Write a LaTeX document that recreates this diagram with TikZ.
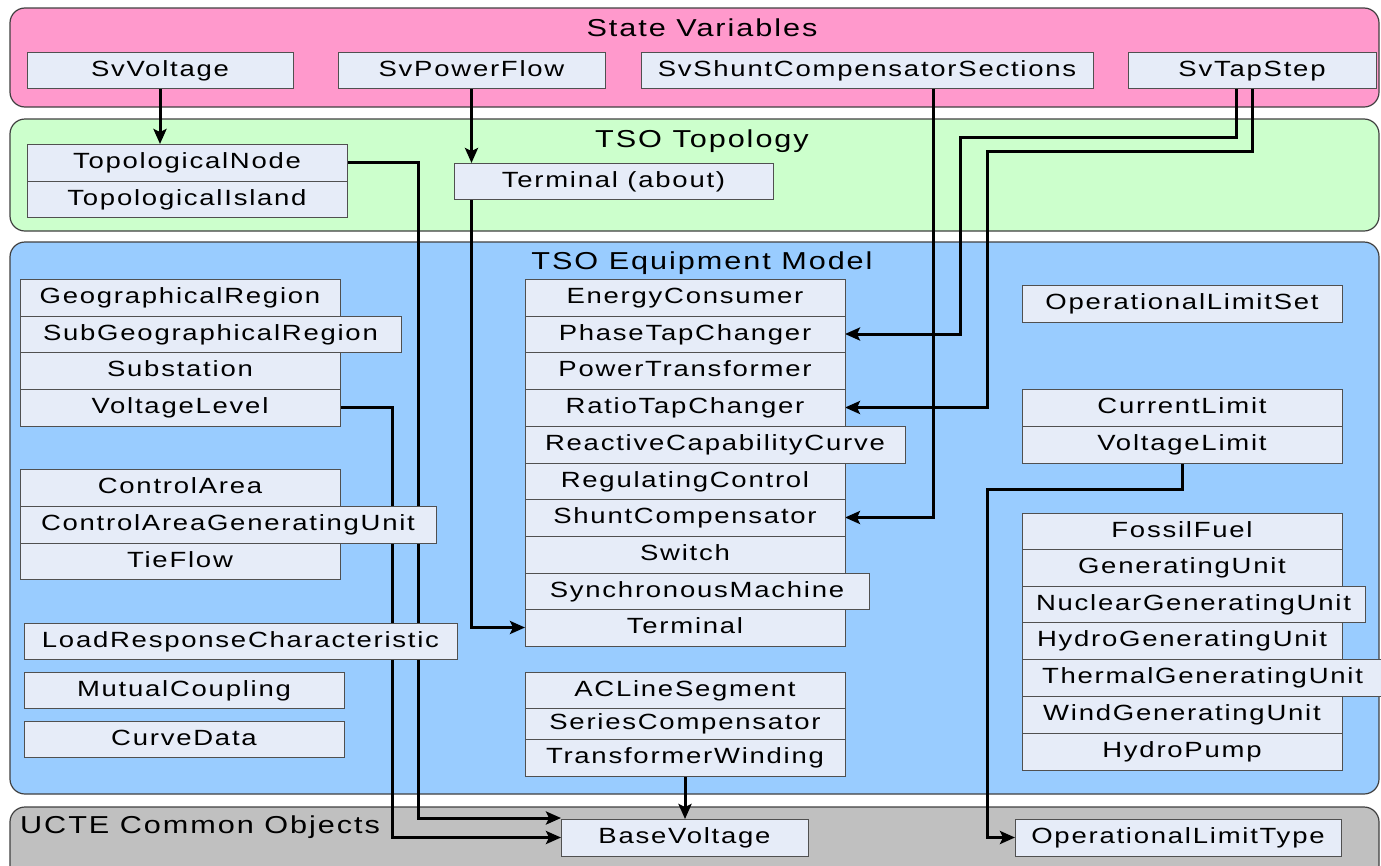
\documentclass[tikz,border=0pt]{standalone}
\usepackage{fontspec}
\setmainfont{Liberation Sans}[FakeStretch=1.25,LetterSpace=8]
\usetikzlibrary{arrows.meta}
\definecolor{svpink}{HTML}{FF99CC}
\definecolor{topgreen}{HTML}{CCFFCC}
\definecolor{eqblue}{HTML}{99CCFF}
\definecolor{ucgray}{HTML}{C0C0C0}
\definecolor{boxfill}{HTML}{E6ECF8}
\definecolor{boxline}{HTML}{505050}
\pgfdeclarelayer{bglayer}
\pgfdeclarelayer{connlayer}
\pgfsetlayers{bglayer,connlayer,main}
\newcommand\clsbox[6]{\node[cbox, minimum width={(#4)-(#2)}, minimum height={(#5)-(#3)}] (#1) at ({((#2)+(#4))/2},{((#3)+(#5))/2}) {#6};}
\begin{document}
\begin{tikzpicture}[x=1pt,y=-1pt,
  cbox/.style={draw=boxline, fill=boxfill, line width=1pt, inner sep=0pt, outer sep=0pt,
    font=\fontsize{22}{26}\selectfont, text height=15.8pt, text depth=3pt},
  container/.style={draw=black!75, line width=1.2pt, rounded corners=15pt},
  ctitle/.style={font=\fontsize{24.5}{28}\selectfont, inner sep=0pt},
  conn/.style={draw=black, line width=3pt, -{Stealth[length=15pt,width=13pt,inset=3pt]}}]
\useasboundingbox (0,0) rectangle (1381,865);
\begin{pgfonlayer}{bglayer}
  \draw[container, fill=svpink] (10,8) rectangle (1379,107);
  \draw[container, fill=topgreen] (10,119) rectangle (1379,231);
  \draw[container, fill=eqblue] (10,242) rectangle (1379,794);
  \draw[container, fill=ucgray] (10,807) rectangle (1379,880);
\end{pgfonlayer}
\node[ctitle, anchor=base] (tsv) at (702,36.7) {State Variables};
\node[ctitle, anchor=base] (ttop) at (702,147) {TSO Topology};
\node[ctitle, anchor=base] (teq) at (702,269.5) {TSO Equipment Model};
\node[ctitle, anchor=base west] (tuc) at (20,833.5) {UCTE Common Objects};
% State variables
\clsbox{svv}{27}{52}{293}{88}{SvVoltage}
\clsbox{svp}{338}{52}{605}{88}{SvPowerFlow}
\clsbox{svs}{641}{52}{1093}{88}{SvShuntCompensatorSections}
\clsbox{svt}{1128}{52}{1376}{88}{SvTapStep}
% Topology
\clsbox{topo}{27}{144}{347}{181}{TopologicalNode}
\clsbox{tisl}{27}{181}{347}{217}{TopologicalIsland}
\clsbox{tabout}{454}{163}{773}{199}{Terminal (about)}
% Equipment left
\clsbox{geo}{20}{279}{340}{316}{GeographicalRegion}
\clsbox{subgeo}{20}{316}{401}{352}{SubGeographicalRegion}
\clsbox{subst}{20}{352}{340}{389}{Substation}
\clsbox{vlev}{20}{389}{340}{426}{VoltageLevel}
\clsbox{carea}{20}{469}{340}{506}{ControlArea}
\clsbox{cagu}{20}{506}{436}{543}{ControlAreaGeneratingUnit}
\clsbox{tief}{20}{543}{340}{579}{TieFlow}
\clsbox{lrc}{24}{623}{457}{659}{LoadResponseCharacteristic}
\clsbox{mutc}{24}{672}{344}{708}{MutualCoupling}
\clsbox{curve}{24}{721}{344}{757}{CurveData}
% Equipment middle
\clsbox{econ}{525}{279}{845}{316}{EnergyConsumer}
\clsbox{ptc}{525}{316}{845}{352}{PhaseTapChanger}
\clsbox{ptr}{525}{352}{845}{389}{PowerTransformer}
\clsbox{rtc}{525}{389}{845}{426}{RatioTapChanger}
\clsbox{rcc}{525}{426}{905}{463}{ReactiveCapabilityCurve}
\clsbox{regc}{525}{463}{845}{499}{RegulatingControl}
\clsbox{shunt}{525}{499}{845}{536}{ShuntCompensator}
\clsbox{sw}{525}{536}{845}{573}{Switch}
\clsbox{sync}{525}{573}{869}{609}{SynchronousMachine}
\clsbox{term}{525}{609}{845}{646}{Terminal}
\clsbox{acl}{525}{672}{845}{708}{ACLineSegment}
\clsbox{serc}{525}{708}{845}{739}{SeriesCompensator}
\clsbox{tw}{525}{739}{845}{776}{TransformerWinding}
% Equipment right
\clsbox{ols}{1022}{285}{1342}{322}{OperationalLimitSet}
\clsbox{clim}{1022}{389}{1342}{426}{CurrentLimit}
\clsbox{vlim}{1022}{426}{1342}{463}{VoltageLimit}
\clsbox{ff}{1022}{513}{1342}{549}{FossilFuel}
\clsbox{gu}{1022}{549}{1342}{586}{GeneratingUnit}
\clsbox{ngu}{1022}{586}{1365}{622}{NuclearGeneratingUnit}
\clsbox{hgu}{1022}{622}{1342}{659}{HydroGeneratingUnit}
\clsbox{tgu}{1022}{659}{1383}{696}{ThermalGeneratingUnit}
\clsbox{wgu}{1022}{696}{1342}{733}{WindGeneratingUnit}
\clsbox{hp}{1022}{733}{1342}{770}{HydroPump}
% UCTE
\clsbox{bv}{561}{819}{808}{856}{BaseVoltage}
\clsbox{olt}{1015}{819}{1341}{856}{OperationalLimitType}
% routing coordinates
\coordinate (xshunt) at (933,0);
\coordinate (xph) at (960,0);
\coordinate (xrt) at (987,0);
\coordinate (xt1) at (1236,0);
\coordinate (yt1) at (0,137);
\coordinate (yt2) at (0,151);
\coordinate (xtn) at (418,0);
\coordinate (xvl) at (392,0);
\coordinate (ycl) at (0,489);
\coordinate (bvtop) at ([yshift=1pt]bv.north west);
\begin{pgfonlayer}{connlayer}
  \draw[conn] (svv.south) -- (svv.south |- topo.north);
  \draw[conn] (svp.south) -- (svp.south |- tabout.north);
  \draw[conn] (xshunt |- svs.south) -- (xshunt |- shunt.east) -- (shunt.east);
  \draw[conn] (xt1 |- svt.south) -- (xt1 |- yt1) -- (xph |- yt1) -- (xph |- ptc.east) -- (ptc.east);
  \draw[conn] (svt.south) -- (svt.south |- yt2) -- (xrt |- yt2) -- (xrt |- rtc.east) -- (rtc.east);
  \draw[conn] (topo.east) -- (xtn |- topo.east) -- (xtn |- bvtop) -- (bvtop);
  \draw[conn] (vlev.east) -- (xvl |- vlev.east) -- (xvl |- bv.west) -- (bv.west);
  \draw[conn] (svp.south |- tabout.south) -- (svp.south |- term.west) -- (term.west);
  \draw[conn] (tw.south) -- (tw.south |- bv.north);
  \draw[conn] (vlim.south) -- (vlim.south |- ycl) -- (xrt |- ycl) -- (xrt |- olt.west) -- (olt.west);
\end{pgfonlayer}
\end{tikzpicture}
\end{document}
